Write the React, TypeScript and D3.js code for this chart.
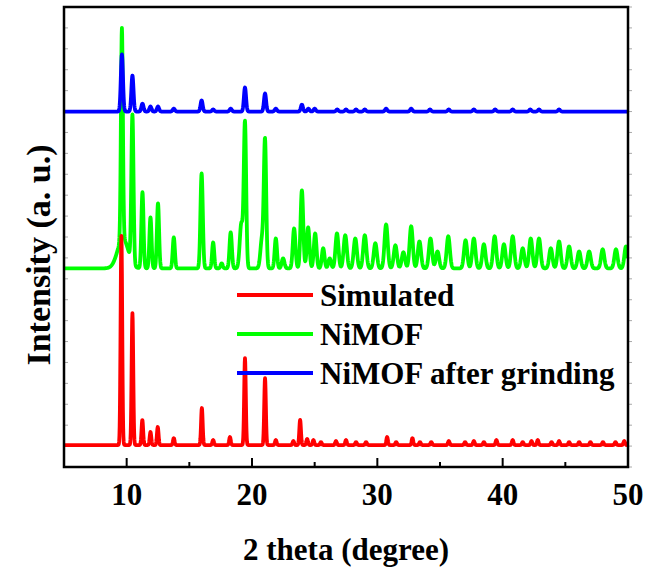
import React from "react";
import { scaleLinear, line, range } from "d3";

// peaks: [2 theta, height (a.u.), fwhm (deg)]
const simulatedPeaks: [number, number, number][] = [
  [9.58, 1000, 0.15], [10.46, 631, 0.15], [11.25, 120, 0.15], [11.9, 62, 0.15],
  [12.48, 86, 0.15], [13.76, 33, 0.15], [16.0, 177, 0.15], [16.9, 24, 0.15],
  [18.24, 38, 0.15], [19.44, 416, 0.15], [21.04, 320, 0.15], [21.9, 24, 0.15],
  [23.3, 19, 0.15], [23.84, 120, 0.15], [24.4, 29, 0.15], [24.9, 24, 0.15],
  [25.5, 14, 0.15], [26.7, 19, 0.15], [27.5, 24, 0.15], [28.3, 14, 0.15],
  [29.1, 14, 0.15], [30.78, 38, 0.15], [31.5, 14, 0.15], [32.8, 33, 0.15],
  [33.4, 14, 0.15], [34.3, 14, 0.15], [35.7, 19, 0.15], [37.0, 14, 0.15],
  [37.7, 19, 0.15], [38.5, 14, 0.15], [39.5, 24, 0.15], [40.8, 24, 0.15],
  [41.6, 14, 0.15], [42.3, 19, 0.15], [42.8, 24, 0.15], [43.9, 14, 0.15],
  [44.5, 19, 0.15], [45.3, 14, 0.15], [46.1, 14, 0.15], [47.0, 14, 0.15],
  [48.0, 14, 0.15], [49.0, 14, 0.15], [49.7, 19, 0.15],
];

const nimofPeaks: [number, number, number][] = [
  [9.7, 143, 1.0], [9.62, 1010, 0.18], [10.46, 708, 0.2], [11.26, 364, 0.2],
  [11.9, 244, 0.2], [12.5, 311, 0.2], [13.76, 148, 0.2], [15.98, 454, 0.22],
  [16.9, 124, 0.2], [17.58, 24, 0.2], [18.3, 172, 0.22], [19.15, 215, 0.3],
  [19.44, 690, 0.22], [20.8, 143, 0.3], [21.04, 600, 0.22], [21.9, 143, 0.22],
  [22.48, 48, 0.25], [23.36, 191, 0.25], [23.98, 373, 0.25], [24.48, 196, 0.25],
  [25.04, 167, 0.25], [25.68, 96, 0.25], [26.2, 48, 0.25], [26.78, 167, 0.28],
  [27.44, 158, 0.3], [28.24, 143, 0.3], [29.0, 158, 0.3], [29.84, 120, 0.3],
  [30.7, 210, 0.3], [31.44, 110, 0.3], [32.08, 77, 0.3], [32.7, 201, 0.3],
  [33.36, 129, 0.3], [34.24, 143, 0.3], [34.8, 81, 0.3], [35.66, 153, 0.3],
  [37.04, 134, 0.3], [37.7, 143, 0.3], [38.5, 115, 0.3], [39.36, 153, 0.3],
  [40.1, 115, 0.3], [40.8, 153, 0.3], [41.6, 96, 0.3], [42.24, 143, 0.3],
  [42.9, 143, 0.3], [43.84, 96, 0.3], [44.5, 129, 0.3], [45.3, 105, 0.3],
  [46.1, 81, 0.3], [46.9, 81, 0.3], [47.98, 91, 0.3], [49.04, 91, 0.3],
  [49.84, 105, 0.3],
];

const groundPeaks: [number, number, number][] = [
  [9.62, 273, 0.2], [10.46, 172, 0.2], [11.26, 38, 0.2], [11.9, 24, 0.2],
  [12.5, 24, 0.2], [13.76, 14, 0.2], [15.98, 53, 0.2], [16.9, 10, 0.2],
  [18.3, 14, 0.2], [19.44, 115, 0.2], [21.04, 86, 0.2], [21.9, 14, 0.2],
  [23.98, 33, 0.2], [24.5, 14, 0.2], [25.0, 14, 0.2], [26.8, 10, 0.2],
  [27.5, 10, 0.2], [28.3, 10, 0.2], [29.0, 10, 0.2], [30.7, 14, 0.2],
  [32.7, 14, 0.2], [34.2, 10, 0.2], [35.7, 10, 0.2], [37.7, 10, 0.2],
  [39.4, 10, 0.2], [40.8, 10, 0.2], [42.2, 10, 0.2], [42.9, 10, 0.2],
  [44.5, 10, 0.2],
];

const seriesNames = ["Simulated", "NiMOF", "NiMOF after grinding"];
const seriesColors = ["#ff0000", "#00ff00", "#0000ff"];
const seriesOffsets = [105, 950, 1700];
const xTicks = [10, 20, 30, 40, 50];
const xMinorTicks = [15, 25, 35, 45];

const W = 651;
const H = 579;
const left = 64;
const right = 628;
const top = 7;
const bottom = 467;
const font = "'Liberation Serif', 'DejaVu Serif', serif";

const x = scaleLinear().domain([5, 50]).range([left, right]);
const y = scaleLinear().domain([0, 2200]).range([bottom, top]);

const grid = range(5, 50.001, 0.02);
const profile = (peaks: [number, number, number][], offset: number) =>
  grid.map((t) => {
    let v = offset;
    for (const [c, h, w] of peaks) {
      const d = (t - c) / w;
      if (Math.abs(d) < 6) v += h * Math.exp(-4 * Math.LN2 * d * d);
    }
    return [t, v] as [number, number];
  });

const lineGen = line<[number, number]>()
  .x((d) => x(d[0]))
  .y((d) => y(d[1]));

export default function App() {
  const curves = [
    profile(simulatedPeaks, seriesOffsets[0]),
    profile(nimofPeaks, seriesOffsets[1]),
    profile(groundPeaks, seriesOffsets[2]),
  ];
  const drawOrder = [1, 0, 2];
  const yTicks = y.ticks(22);
  return (
    <svg width={W} height={H} style={{ position: "absolute", left: 0, top: 0, background: "#fff" }}>
      <defs>
        <clipPath id="plot">
          <rect x={left} y={top} width={right - left} height={bottom - top} />
        </clipPath>
      </defs>
      {/* faint y ticks */}
      {yTicks.map((t) => (
        <g key={t} stroke="#aaa" strokeWidth={1}>
          <line x1={left} x2={left + 4} y1={y(t)} y2={y(t)} />
          <line x1={right} x2={right + 4} y1={y(t)} y2={y(t)} />
        </g>
      ))}
      <g clipPath="url(#plot)" fill="none" strokeWidth={3.8} strokeLinejoin="round">
        {drawOrder.map((i) => (
          <path key={i} d={lineGen(curves[i]) || ""} stroke={seriesColors[i]} />
        ))}
      </g>
      {/* legend */}
      {seriesNames.map((name, i) => (
        <g key={name}>
          <line x1={237} x2={313} y1={295 + i * 39} y2={295 + i * 39} stroke={seriesColors[i]} strokeWidth={4} />
          <text x={320} y={306 + i * 39} fontFamily={font} fontWeight="bold" fontSize={31}>
            {name}
          </text>
        </g>
      ))}
      {/* x ticks */}
      {xTicks.map((t) => (
        <line key={t} x1={x(t)} x2={x(t)} y1={bottom} y2={bottom - 9} stroke="#000" strokeWidth={2} />
      ))}
      {xMinorTicks.map((t) => (
        <line key={t} x1={x(t)} x2={x(t)} y1={bottom} y2={bottom - 5} stroke="#000" strokeWidth={2} />
      ))}
      <rect x={left} y={top} width={right - left} height={bottom - top} fill="none" stroke="#000" strokeWidth={2.5} />
      {xTicks.map((t) => (
        <text key={t} x={x(t)} y={505} textAnchor="middle" fontFamily={font} fontWeight="bold" fontSize={31}>
          {t}
        </text>
      ))}
      <text x={(left + right) / 2} y={560} textAnchor="middle" fontFamily={font} fontWeight="bold" fontSize={31}>
        2 theta (degree)
      </text>
      <text
        transform={`translate(50, 255) rotate(-90)`}
        textAnchor="middle"
        fontFamily={font}
        fontWeight="bold"
        fontSize={34}
      >
        Intensity (a. u.)
      </text>
    </svg>
  );
}
